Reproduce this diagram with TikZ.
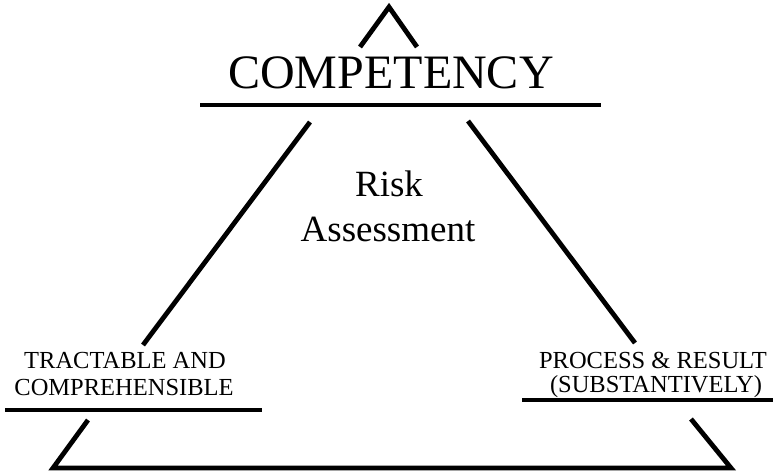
\documentclass[tikz,border=0pt]{standalone}
\usepackage{fontspec}
\setmainfont{Liberation Serif}
\begin{document}
\begin{tikzpicture}[x=1pt,y=-1pt,
  side/.style={line width=4.8pt,line join=miter},
  rule/.style={line width=3.4pt},
  big/.style={font=\fontsize{48}{52}\selectfont,inner sep=0pt,anchor=base},
  mid/.style={font=\fontsize{37}{40}\selectfont,inner sep=0pt,anchor=base},
  small/.style={font=\fontsize{24.5}{27}\selectfont,inner sep=0pt,anchor=base}]
\useasboundingbox (0,0) rectangle (773,474);
% apex chevron
\coordinate (apL) at (360,47);
\coordinate (apex) at (389,7);
\coordinate (apR) at (417,47);
\draw[side] (apL) -- (apex) -- (apR);
% title and its rule
\node[big] (title) at (391,88) {COMPETENCY};
\coordinate (tL) at (200,105);
\coordinate (tR) at (601,105);
\draw[rule] (tL) -- (tR);
% upper parts of the sides
\coordinate (ulA) at (310,122);
\coordinate (ulB) at (143,345);
\coordinate (urA) at (468,121);
\coordinate (urB) at (635,343);
\draw[side] (ulA) -- (ulB);
\draw[side] (urA) -- (urB);
% centre text
\node[mid] (risk) at (389,196) {Risk};
\node[mid] (assess) at (388,241) {Assessment};
% corner labels
\node[small] (la1) at (125,368) {TRACTABLE AND};
\node[small] (la2) at (124,395) {COMPREHENSIBLE};
\node[small] (ra1) at (653,368) {PROCESS \& RESULT};
\node[small] (ra2) at (656,392) {(SUBSTANTIVELY)};
\coordinate (lrL) at (5,410);
\coordinate (lrR) at (262,410);
\coordinate (rrL) at (522,400);
\coordinate (rrR) at (773,400);
\draw[rule] (lrL) -- (lrR);
\draw[rule] (rrL) -- (rrR);
% base of the triangle
\coordinate (blA) at (88,420);
\coordinate (bl) at (53,468);
\coordinate (br) at (731,468);
\coordinate (brA) at (691,419);
\draw[side] (blA) -- (bl) -- (br) -- (brA);
\end{tikzpicture}
\end{document}
